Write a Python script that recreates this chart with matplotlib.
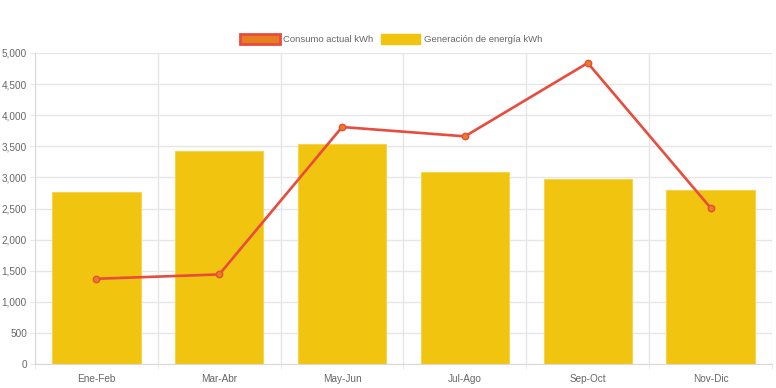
import matplotlib
matplotlib.use("Agg")
import matplotlib.pyplot as plt
from matplotlib.patches import Patch

categories = ["Ene-Feb", "Mar-Abr", "May-Jun", "Jul-Ago", "Sep-Oct", "Nov-Dic"]
generacion = [2770, 3430, 3540, 3090, 2970, 2800]
consumo = [1370, 1440, 3810, 3660, 4840, 2510]
yticks = [0, 500, 1000, 1500, 2000, 2500, 3000, 3500, 4000, 4500, 5000]

plt.rcParams['font.family'] = ['Liberation Sans', 'DejaVu Sans']

W, H = 776, 388
fig = plt.figure(figsize=(W / 100, H / 100), dpi=100)
left, right, top, bottom = 35, 772, 53, 364
ax = fig.add_axes([left / W, 1 - bottom / H, (right - left) / W, (bottom - top) / H])

x = list(range(len(categories)))
ax.bar(x, generacion, width=0.72, color="#f1c40f", edgecolor="#f5d451", linewidth=0.8, zorder=2)
ax.plot(x, consumo, color="#e74c3c", linewidth=1.9, marker="o", markersize=4.6,
        markerfacecolor="#e67e22", markeredgecolor="#e74c3c", markeredgewidth=1, zorder=3)

ax.set_xlim(-0.5, len(categories) - 0.5)
ax.set_ylim(0, 5000)
ax.set_yticks(yticks)
ax.set_yticklabels([f"{v:,}" for v in yticks])
ax.set_xticks(x)
ax.set_xticklabels(categories)
ax.set_xticks([i - 0.5 for i in range(len(categories) + 1)], minor=True)

ax.grid(True, axis="y", color="#e6e6e6", linewidth=1, zorder=0)
ax.grid(True, axis="x", which="minor", color="#e6e6e6", linewidth=1, zorder=0)
ax.grid(False, axis="x", which="major")
ax.set_axisbelow(True)

for s in ["top", "right"]:
    ax.spines[s].set_visible(False)
ax.spines["left"].set_color("#d9d9d9")
ax.spines["bottom"].set_color("#d9d9d9")
px = 0.72  # points per pixel at 100 dpi
ax.tick_params(axis="y", length=5 * px, color="#e6e6e6", labelsize=7.2, labelcolor="#666666", pad=3 * px)
ax.tick_params(axis="x", which="major", length=0, labelsize=7.2, labelcolor="#666666", pad=7.5)
ax.tick_params(axis="x", which="minor", length=5 * px, color="#e6e6e6")

handles = [
    Patch(facecolor="#e67e22", edgecolor="#e74c3c", linewidth=2, label="Consumo actual kWh"),
    Patch(facecolor="#f1c40f", edgecolor="#f1c40f", label="Generación de energía kWh"),
]
fig.legend(handles=handles, loc="center", bbox_to_anchor=(391 / W, 1 - 39 / H), ncol=2, frameon=False,
           fontsize=6.8, labelcolor="#666666", handlelength=4.2, handleheight=1.4,
           handletextpad=0.35, columnspacing=0.8)

fig.savefig("out.png", dpi=100)
